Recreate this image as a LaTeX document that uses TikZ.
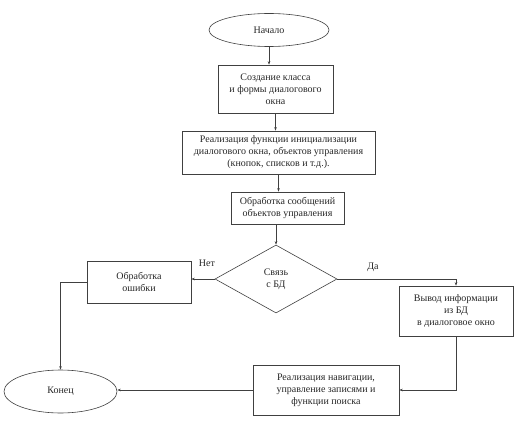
\documentclass[tikz,border=0pt]{standalone}
\usepackage{fontspec}
\setmainfont{Liberation Serif}
\usetikzlibrary{shapes.geometric,arrows.meta}
\begin{document}
\begin{tikzpicture}[x=1pt,y=-1pt,
  every node/.style={font=\fontsize{10}{12}\selectfont, text=black!85},
  box/.style={draw=black!75, line width=0.6pt, rectangle, inner sep=0pt, align=center},
  oval/.style={draw=black!75, line width=0.6pt, ellipse, inner sep=0pt},
  decision/.style={draw=black!75, line width=0.6pt, diamond, inner sep=0pt, aspect=1.8, align=center},
  conn/.style={draw=black!75, line width=0.6pt, -{Stealth[length=3.5pt,width=2.5pt]}},
  lbl/.style={inner sep=0pt}]
\useasboundingbox (0,0) rectangle (518,427);
\node[oval, minimum width=120, minimum height=33] (start) at (269,30) {Начало};
\node[box, minimum width=115, minimum height=48] (b1) at (275.5,89) {Создание класса\\ и формы диалогового\\ окна};
\node[box, minimum width=193, minimum height=43] (b2) at (278.5,152.5) {Реализация функции инициализации\\ диалогового окна, объектов управления\\ (кнопок, списков и т.д.).};
\node[box, minimum width=113, minimum height=32] (b3) at (287.5,208) {Обработка сообщений\\ объектов управления};
\node[decision, minimum width=122, minimum height=68] (dec) at (276,279) {Связь\\ с БД};
\node[box, minimum width=104, minimum height=42] (err) at (139,282) {Обработка\\ ошибки};
\node[box, minimum width=114, minimum height=50] (out) at (456,311) {Вывод информации\\ из БД\\ в диалоговое окно};
\node[box, minimum width=146, minimum height=50] (nav) at (326,390) {Реализация навигации,\\ управление записями и\\ функции поиска};
\node[oval, minimum width=113, minimum height=43] (end) at (60.5,391.5) {Конец};
\node[lbl] (no) at (207,263) {Нет};
\node[lbl] (yes) at (373,267) {Да};
\draw[conn] (start.south) -- (start.south |- b1.north);
\draw[conn] (b1.south) -- (b1.south |- b2.north);
\draw[conn] (b2.south) -- (b2.south |- b3.north);
\draw[conn] (dec.north |- b3.south) -- (dec.north);
\draw[conn] (dec.west) -- (dec.west -| err.east);
\draw[conn] (err.west) -| (end.north);
\draw[conn] (dec.east) -| (out.north);
\draw[conn] (out.south) |- (nav.east);
\draw[conn] (nav.west) -- (nav.west -| end.east);
\end{tikzpicture}
\end{document}
